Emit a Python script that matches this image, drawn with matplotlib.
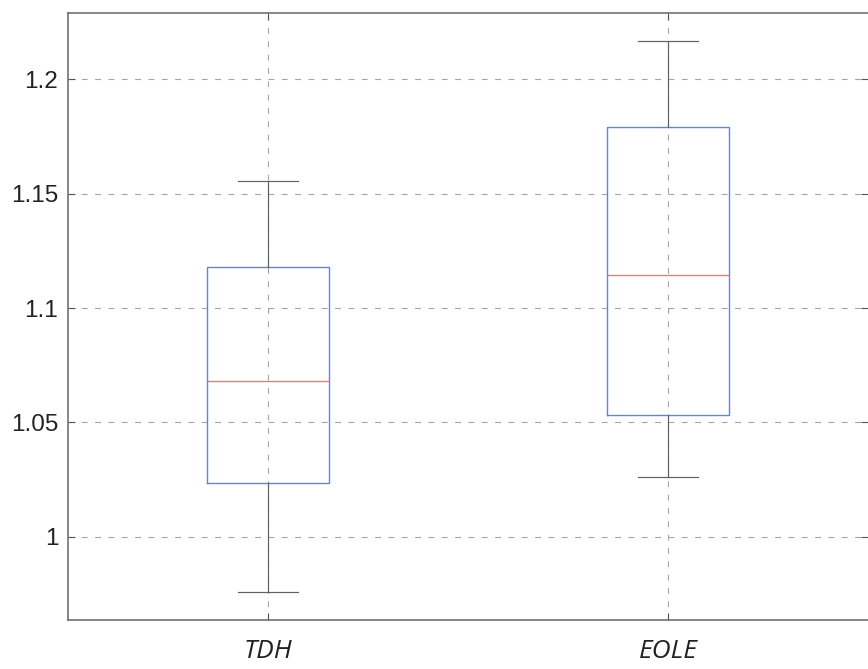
import matplotlib
matplotlib.use("Agg")
import matplotlib.pyplot as plt

# Summary statistics per method
methods = ["TDH", "EOLE"]
whisker_low = [0.9757, 1.0261]
q1 = [1.0236, 1.0532]
medians = [1.0681, 1.1146]
q3 = [1.1178, 1.1793]
whisker_high = [1.1557, 1.2166]

yticks = [1.0, 1.05, 1.1, 1.15, 1.2]
ytick_labels = ["1", "1.05", "1.1", "1.15", "1.2"]

plt.rcParams["lines.scale_dashes"] = False

fig = plt.figure(figsize=(8.68, 6.69), dpi=100)
ax = fig.add_axes([68 / 868, 49 / 669, 800 / 868, 607 / 669])

stats = []
for i, name in enumerate(methods):
    stats.append(dict(label=name, whislo=whisker_low[i], q1=q1[i], med=medians[i],
                      q3=q3[i], whishi=whisker_high[i], fliers=[]))

positions = list(range(1, len(methods) + 1))
ax.bxp(stats, positions=positions, widths=0.304, capwidths=0.148,
       showfliers=False, patch_artist=False,
       boxprops=dict(color="#5a84f6", linewidth=1.0),
       medianprops=dict(color="#f2766a", linewidth=1.0),
       whiskerprops=dict(color="#606060", linewidth=0.85, linestyle="-"),
       capprops=dict(color="#606060", linewidth=0.85))

ax.set_xlim(0.5, 2.5)
ax.set_ylim(0.9636, 1.229)
ax.set_yticks(yticks)
ax.set_yticklabels(ytick_labels, fontsize=17.5, family="Liberation Sans", color="#222222")
ax.set_xticks(positions)
ax.set_xticklabels(methods, fontsize=19, family="Open Sans", style="italic", color="#222222")

ax.grid(True, color="#a4a4a4", linewidth=0.8, linestyle=(0, (4.2, 5.4)))
ax.set_axisbelow(True)

ax.tick_params(axis="both", direction="in", length=5, width=0.8, color="#555555")
ax.tick_params(axis="y", pad=7, right=True)
ax.tick_params(axis="x", pad=14, top=True)

for side in ("left", "bottom", "top"):
    ax.spines[side].set_color("#666666")
    ax.spines[side].set_linewidth(1.1)
ax.spines["right"].set_visible(False)

fig.savefig("out.png", dpi=100)
